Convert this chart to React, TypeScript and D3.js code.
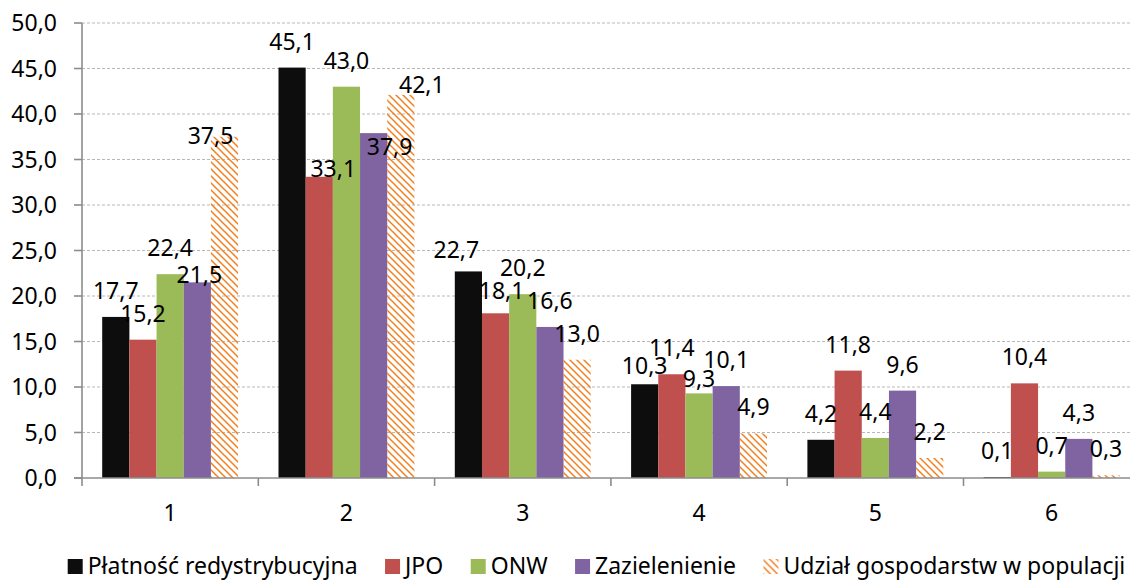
import React, { useEffect, useRef } from "react";
import * as d3 from "d3";

const categories = ["1", "2", "3", "4", "5", "6"];
const seriesNames = [
  "Płatność redystrybucyjna",
  "JPO",
  "ONW",
  "Zazielenienie",
  "Udział gospodarstw w populacji",
];
const platnosc = [17.7, 45.1, 22.7, 10.3, 4.2, 0.1];
const jpo = [15.2, 33.1, 18.1, 11.4, 11.8, 10.4];
const onw = [22.4, 43.0, 20.2, 9.3, 4.4, 0.7];
const zazielenienie = [21.5, 37.9, 16.6, 10.1, 9.6, 4.3];
const udzial = [37.5, 42.1, 13.0, 4.9, 2.2, 0.3];
const yTicks = [0, 5, 10, 15, 20, 25, 30, 35, 40, 45, 50];

const seriesValues = [platnosc, jpo, onw, zazielenienie, udzial];
const colors = ["#0d0d0d", "#c0504d", "#9bbb59", "#8064a2", "url(#hatch)"];

// manual label adjustments from the original (category index, series index) -> [dx, dy]
const labelNudges: Record<string, [number, number]> = {
  "0-3": [2, 19],
  "0-4": [-14, 25],
  "1-1": [14, 18],
  "1-3": [16, 40],
  "1-4": [21, 16],
  "2-0": [-12, 5],
  "2-1": [6, 4],
  "3-0": [0, 8],
  "3-2": [0, 12],
};

const W = 1130;
const H = 581;
const FONT = "'Noto Sans', 'Open Sans', sans-serif";
const FS = 23;

const fmt = (v: number) => d3.format(".1f")(v).replace(".", ",");

export default function App() {
  const ref = useRef<SVGSVGElement | null>(null);

  useEffect(() => {
    const svg = d3.select(ref.current);
    svg.selectAll("*").remove();

    const x0 = 82;
    const x1 = 1139.8;
    const yTop = 23;
    const yBot = 478;

    const x = d3.scaleBand<string>().domain(categories).range([x0, x1]).padding(0);
    const bw = x.bandwidth();
    const inner = d3
      .scaleBand<string>()
      .domain(seriesNames)
      .range([20.2, bw - 20.2])
      .padding(0);
    const y = d3.scaleLinear().domain([0, 50]).range([yBot, yTop]);

    const defs = svg.append("defs");
    const pat = defs
      .append("pattern")
      .attr("id", "hatch")
      .attr("patternUnits", "userSpaceOnUse")
      .attr("width", 7)
      .attr("height", 7);
    pat
      .append("path")
      .attr("d", "M-1,-1 L8,8 M-1,6 L1,8 M6,-1 L8,1")
      .attr("stroke", "#f38020")
      .attr("stroke-width", 1.5)
      .attr("fill", "none");

    // gridlines
    svg
      .append("g")
      .selectAll("line")
      .data(yTicks.filter((t) => t > 0))
      .join("line")
      .attr("x1", x0)
      .attr("x2", x1)
      .attr("y1", (d) => y(d))
      .attr("y2", (d) => y(d))
      .attr("stroke", "#b8b8b8")
      .attr("stroke-width", 1)
      .attr("stroke-dasharray", "3 2");

    // bars
    const g = svg.append("g");
    categories.forEach((c, ci) => {
      seriesNames.forEach((s, si) => {
        const v = seriesValues[si][ci];
        g.append("rect")
          .attr("x", (x(c) as number) + (inner(s) as number))
          .attr("width", inner.bandwidth())
          .attr("y", y(v))
          .attr("height", yBot - y(v))
          .attr("fill", colors[si]);
      });
    });

    // axes
    const axisColor = "#8c8c8c";
    svg
      .append("line")
      .attr("x1", x0)
      .attr("x2", x0)
      .attr("y1", yTop)
      .attr("y2", yBot)
      .attr("stroke", axisColor)
      .attr("stroke-width", 1.6);
    svg
      .append("line")
      .attr("x1", x0 - 8)
      .attr("x2", x1)
      .attr("y1", yBot)
      .attr("y2", yBot)
      .attr("stroke", axisColor)
      .attr("stroke-width", 1.6);
    svg
      .append("g")
      .selectAll("line")
      .data(yTicks)
      .join("line")
      .attr("x1", x0 - 8)
      .attr("x2", x0)
      .attr("y1", (d) => y(d))
      .attr("y2", (d) => y(d))
      .attr("stroke", axisColor)
      .attr("stroke-width", 1.6);
    svg
      .append("g")
      .selectAll("line")
      .data(categories.map((c) => x(c) as number).concat([x1]))
      .join("line")
      .attr("x1", (d) => d)
      .attr("x2", (d) => d)
      .attr("y1", yBot)
      .attr("y2", yBot + 8)
      .attr("stroke", axisColor)
      .attr("stroke-width", 1.6);

    // y tick labels
    svg
      .append("g")
      .selectAll("text")
      .data(yTicks)
      .join("text")
      .attr("x", 57)
      .attr("y", (d) => y(d) + 8)
      .attr("text-anchor", "end")
      .attr("font-family", FONT)
      .attr("font-size", FS)
      .attr("fill", "#000")
      .text((d) => fmt(d));

    // x labels
    svg
      .append("g")
      .selectAll("text")
      .data(categories)
      .join("text")
      .attr("x", (d) => (x(d) as number) + bw / 2)
      .attr("y", 521)
      .attr("text-anchor", "middle")
      .attr("font-family", FONT)
      .attr("font-size", FS)
      .attr("fill", "#000")
      .text((d) => d);

    // data labels
    const lg = svg.append("g");
    categories.forEach((c, ci) => {
      seriesNames.forEach((s, si) => {
        const v = seriesValues[si][ci];
        const nudge = labelNudges[`${ci}-${si}`] || [0, 0];
        const cx = (x(c) as number) + (inner(s) as number) + inner.bandwidth() / 2;
        const cy = y(v) - 26;
        lg.append("text")
          .attr("x", cx + nudge[0])
          .attr("y", cy + nudge[1] + 8)
          .attr("text-anchor", "middle")
          .attr("font-family", FONT)
          .attr("font-size", FS)
          .attr("fill", "#000")
          .text(fmt(v));
      });
    });

    // legend
    const leg = svg.append("g");
    const sw = 15;
    const gapText = 5;
    const gapItem = 27.5;
    const items = seriesNames.map((name, i) => {
      const gi = leg.append("g");
      gi.append("rect")
        .attr("x", 0)
        .attr("y", 559)
        .attr("width", sw)
        .attr("height", sw)
        .attr("fill", colors[i]);
      const t = gi
        .append("text")
        .attr("x", sw + gapText)
        .attr("y", 574)
        .attr("font-family", FONT)
        .attr("font-size", FS)
        .attr("fill", "#000")
        .text(name);
      const tw = (t.node() as SVGTextElement).getComputedTextLength();
      return { gi, w: sw + gapText + tw };
    });
    const total = d3.sum(items, (d) => d.w) + gapItem * (items.length - 1);
    let cur = (68 + 1125) / 2 - total / 2;
    items.forEach((it) => {
      it.gi.attr("transform", `translate(${cur},0)`);
      cur += it.w + gapItem;
    });
  }, []);

  return (
    <svg
      ref={ref}
      width={W}
      height={H}
      style={{ position: "absolute", left: 0, top: 0, background: "#fff" }}
    />
  );
}
